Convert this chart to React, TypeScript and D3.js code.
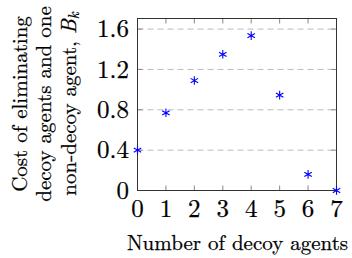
import React from "react";
import * as d3 from "d3";

const xCats = [0, 1, 2, 3, 4, 5, 6, 7];
const costs = [0.4, 0.77, 1.09, 1.35, 1.535, 0.945, 0.16, 0.0];
const yTicks = [0, 0.4, 0.8, 1.2, 1.6];
const yTickLabels = ["0", "0.4", "0.8", "1.2", "1.6"];
const xTickLabels = ["0", "1", "2", "3", "4", "5", "6", "7"];

const W = 352, H = 258;
const L = 137.5, R = 336.5, T = 18.5, B = 190.5;
const FONT = "'Latin Modern Roman', serif";
const TS = { stroke: "#000", strokeWidth: 0.25 };

export default function App() {
  const x = d3.scaleLinear().domain([0, 7]).range([L, R]);
  const y = d3.scaleLinear().domain([0, 1.705]).range([B, T]);
  const tickLen = 5;
  const star = (cx: number, cy: number, r: number) => {
    const parts: string[] = [];
    [90, 30, -30].forEach((a) => {
      const rad = (a * Math.PI) / 180;
      const dx = r * Math.cos(rad), dy = r * Math.sin(rad);
      parts.push(`M${cx - dx},${cy + dy}L${cx + dx},${cy - dy}`);
    });
    return parts.join("");
  };
  return (
    <svg width={W} height={H} style={{ position: "absolute", left: 0, top: 0, background: "#fff" }}>
      {yTicks.slice(1).map((t, i) => (
        <line key={"g" + i} x1={L} x2={R} y1={y(t)} y2={y(t)} stroke="#bbb" strokeWidth={1} strokeDasharray="6,4" />
      ))}
      {xCats.map((t, i) => (
        <g key={"xt" + i}>
          <line x1={x(t)} x2={x(t)} y1={B} y2={B - tickLen} stroke="#888" strokeWidth={1} />
          <line x1={x(t)} x2={x(t)} y1={T} y2={T + tickLen} stroke="#888" strokeWidth={1} />
        </g>
      ))}
      {yTicks.map((t, i) => (
        <g key={"yt" + i}>
          <line x1={L} x2={L + tickLen} y1={y(t)} y2={y(t)} stroke="#888" strokeWidth={1} />
          <line x1={R} x2={R - tickLen} y1={y(t)} y2={y(t)} stroke="#888" strokeWidth={1} />
        </g>
      ))}
      <rect x={L} y={T} width={R - L} height={B - T} fill="none" stroke="#333" strokeWidth={1} />
      {costs.map((v, i) => (
        <path key={"m" + i} d={star(x(xCats[i]), y(v), 4.3)} stroke="#0000ff" strokeWidth={1.1} fill="none" />
      ))}
      {yTicks.map((t, i) => (
        <text key={"yl" + i} x={L - 8.5} y={y(t)} dy="0.33em" textAnchor="end" fontFamily={FONT} fontSize={25} fill="#000" {...TS}>
          {yTickLabels[i]}
        </text>
      ))}
      {xCats.map((t, i) => (
        <text key={"xl" + i} x={x(t)} y={216.5} textAnchor="middle" fontFamily={FONT} fontSize={25} fill="#000" {...TS}>
          {xTickLabels[i]}
        </text>
      ))}
      <text x={(L + R) / 2 + 0.5} y={250} textAnchor="middle" fontFamily={FONT} fontSize={21} fill="#000" {...TS}>
        Number of decoy agents
      </text>
      <g transform={`translate(0, 104) rotate(-90)`}>
        <text x={0} y={27} textAnchor="middle" fontFamily={FONT} fontSize={21} fill="#000" {...TS}>Cost of eliminating</text>
        <text x={0} y={51} textAnchor="middle" fontFamily={FONT} fontSize={21} fill="#000" {...TS}>decoy agents and one</text>
        <text x={0} y={75.5} textAnchor="middle" fontFamily={FONT} fontSize={21} fill="#000" {...TS}>
          non-decoy agent, <tspan fontStyle="italic">B</tspan>
          <tspan fontStyle="italic" fontSize={15} dy={3}>k</tspan>
        </text>
      </g>
    </svg>
  );
}
